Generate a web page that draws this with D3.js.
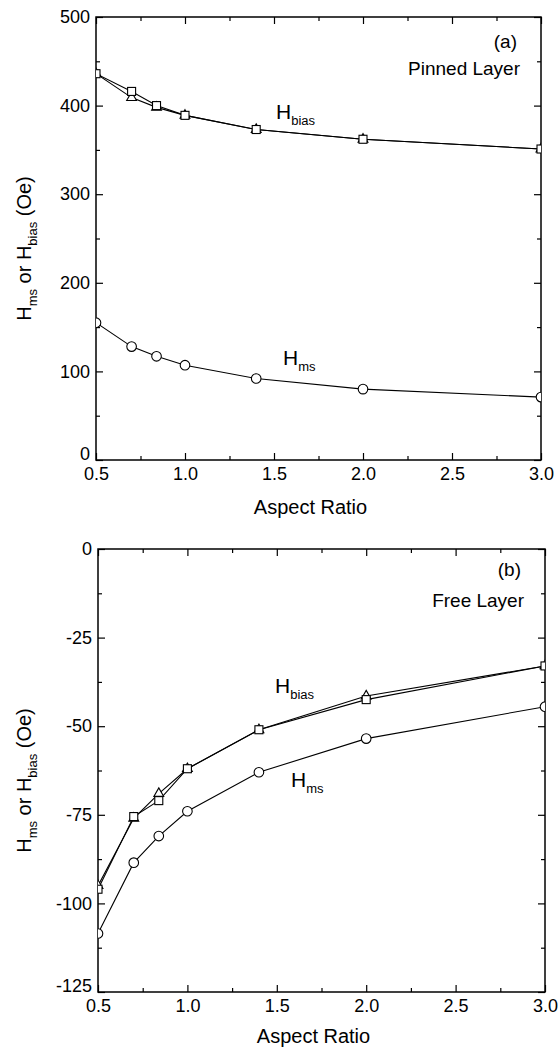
<!DOCTYPE html>
<html>
<head>
<meta charset="utf-8">
<script src="https://cdn.jsdelivr.net/npm/d3@7"></script>
<style>
  body { margin: 0; background: #fff; }
  svg text { font-family: "Liberation Sans", Arial, sans-serif; fill: #000; }
</style>
</head>
<body>
<div id="chart"></div>
<script>
// aspect ratios measured
const aspect = [0.5, 0.7, 0.84, 1.0, 1.4, 2.0, 3.0];

// (a) pinned layer
const pinnedBiasTri = [436, 409, 398, 389, 373, 362, 351];
const pinnedBiasSq = [436, 416, 400, 389, 373, 362, 351];
const pinnedMs = [155, 128, 117, 107, 92, 80, 71];

// (b) free layer
const freeBiasTri = [-95, -76, -69, -62, -51, -41.5, -33];
const freeBiasSq = [-96, -75.5, -71, -62, -51, -42.5, -33];
const freeMs = [-108.5, -88.5, -81, -74, -63, -53.5, -44.5];

const xTicks = [0.5, 1.0, 1.5, 2.0, 2.5, 3.0];
const pinnedYTicks = [0, 100, 200, 300, 400, 500];
const freeYTicks = [0, -25, -50, -75, -100, -125];

const width = 560, height = 1052;

const svg = d3.select("#chart")
  .append("svg")
  .attr("width", width)
  .attr("height", height);

function subLabel(g, x, y, main, sub, size) {
  const t = g.append("text")
    .attr("x", x)
    .attr("y", y)
    .attr("font-size", size);
  t.append("tspan").text(main);
  t.append("tspan")
    .attr("font-size", size * 0.62)
    .attr("dy", 6)
    .text(sub);
  return t;
}

function drawPanel(opt) {
  const { id, left, right, top, bottom, yDomain, yTicks, yMinorStep, series, tag, name } = opt;

  const x = d3.scaleLinear().domain([0.5, 3.0]).range([left, right]);
  const y = d3.scaleLinear().domain(yDomain).range([bottom, top]);

  const g = svg.append("g");

  g.append("clipPath").attr("id", "clip-" + id)
    .append("rect")
    .attr("x", left).attr("y", top)
    .attr("width", right - left).attr("height", bottom - top);

  // ticks on all four sides, pointing inward
  const xMinor = d3.range(0.75, 3.0, 0.5);
  const yMinor = d3.range(yDomain[0] + yMinorStep, yDomain[1], yMinorStep * 2);

  const axB = g.append("g").attr("transform", `translate(0,${bottom})`)
    .call(d3.axisBottom(x).tickValues(xTicks).tickSize(-7).tickFormat(d3.format(".1f")));
  axB.selectAll("text").attr("font-size", 18).attr("dy", "0.95em").attr("y", 3);
  g.append("g").attr("transform", `translate(0,${bottom})`)
    .call(d3.axisBottom(x).tickValues(xMinor).tickSize(-4).tickFormat(""));

  g.append("g").attr("transform", `translate(0,${top})`)
    .call(d3.axisTop(x).tickValues(xTicks).tickSize(-7).tickFormat(""));
  g.append("g").attr("transform", `translate(0,${top})`)
    .call(d3.axisTop(x).tickValues(xMinor).tickSize(-4).tickFormat(""));

  const axL = g.append("g").attr("transform", `translate(${left},0)`)
    .call(d3.axisLeft(y).tickValues(yTicks).tickSize(-7).tickFormat(d => String(d)));
  axL.selectAll("text")
    .attr("font-size", 18)
    .attr("x", -6)
    .attr("y", d => d === yDomain[0] ? -6 : 0);
  g.append("g").attr("transform", `translate(${left},0)`)
    .call(d3.axisLeft(y).tickValues(yMinor).tickSize(-4).tickFormat(""));

  g.append("g").attr("transform", `translate(${right},0)`)
    .call(d3.axisRight(y).tickValues(yTicks).tickSize(-7).tickFormat(""));
  g.append("g").attr("transform", `translate(${right},0)`)
    .call(d3.axisRight(y).tickValues(yMinor).tickSize(-4).tickFormat(""));

  g.selectAll(".domain").remove();
  g.selectAll(".tick line").attr("stroke", "#000").attr("stroke-width", 1.2);

  // frame
  g.append("rect")
    .attr("x", left).attr("y", top)
    .attr("width", right - left).attr("height", bottom - top)
    .attr("fill", "none")
    .attr("stroke", "#000")
    .attr("stroke-width", 1.5);

  const plot = g.append("g").attr("clip-path", `url(#clip-${id})`);

  const line = d3.line()
    .x((d, i) => x(aspect[i]))
    .y(d => y(d));

  series.forEach(s => {
    plot.append("path")
      .attr("d", line(s.values))
      .attr("fill", "none")
      .attr("stroke", "#000")
      .attr("stroke-width", 1.1);
  });

  series.forEach(s => {
    const pts = plot.selectAll(null).data(s.values).enter();
    if (s.shape === "circle") {
      pts.append("circle")
        .attr("cx", (d, i) => x(aspect[i]))
        .attr("cy", d => y(d))
        .attr("r", 4.8)
        .attr("fill", "#fff").attr("stroke", "#000").attr("stroke-width", 1.1);
    } else if (s.shape === "square") {
      pts.append("rect")
        .attr("x", (d, i) => x(aspect[i]) - 4)
        .attr("y", d => y(d) - 4)
        .attr("width", 8).attr("height", 8)
        .attr("fill", "#fff").attr("stroke", "#000").attr("stroke-width", 1.1);
    } else {
      pts.append("path")
        .attr("d", d3.symbol(d3.symbolTriangle, 42))
        .attr("transform", (d, i) => `translate(${x(aspect[i])},${y(d)})`)
        .attr("fill", "#fff").attr("stroke", "#000").attr("stroke-width", 1.1);
    }
  });

  // axis titles
  g.append("text")
    .attr("x", (left + right) / 2 - 8)
    .attr("y", bottom + opt.titleDy)
    .attr("text-anchor", "middle")
    .attr("font-size", 20)
    .text("Aspect Ratio");

  const yl = g.append("text")
    .attr("transform", `translate(31,${(top + bottom) / 2 + 10}) rotate(-90)`)
    .attr("text-anchor", "middle")
    .attr("font-size", 20);
  yl.append("tspan").text("H");
  yl.append("tspan").attr("font-size", 13).attr("dy", 6).text("ms");
  yl.append("tspan").attr("dy", -6).text(" or H");
  yl.append("tspan").attr("font-size", 13).attr("dy", 6).text("bias");
  yl.append("tspan").attr("dy", -6).text(" (Oe)");

  // panel tags
  g.append("text")
    .attr("x", right - 24).attr("y", top + tag.dy)
    .attr("text-anchor", "end").attr("font-size", 19)
    .text(tag.text);
  g.append("text")
    .attr("x", right - 21).attr("y", top + name.dy)
    .attr("text-anchor", "end").attr("font-size", 19)
    .text(name.text);

  opt.labels.forEach(l => subLabel(g, l.x, l.y, "H", l.sub, 21));
}

drawPanel({
  id: "a",
  left: 96, right: 541, top: 17, bottom: 460,
  yDomain: [0, 500], yTicks: pinnedYTicks, yMinorStep: 50,
  series: [
    { values: pinnedBiasTri, shape: "triangle" },
    { values: pinnedBiasSq, shape: "square" },
    { values: pinnedMs, shape: "circle" }
  ],
  tag: { text: "(a)", dy: 31 },
  name: { text: "Pinned Layer", dy: 58 },
  titleDy: 54,
  labels: [
    { x: 276, y: 119, sub: "bias" },
    { x: 283, y: 365, sub: "ms" }
  ]
});

drawPanel({
  id: "b",
  left: 98, right: 545, top: 549, bottom: 992,
  yDomain: [-125, 0], yTicks: freeYTicks, yMinorStep: 12.5,
  series: [
    { values: freeBiasTri, shape: "triangle" },
    { values: freeBiasSq, shape: "square" },
    { values: freeMs, shape: "circle" }
  ],
  tag: { text: "(b)", dy: 27 },
  name: { text: "Free Layer", dy: 58 },
  titleDy: 51,
  labels: [
    { x: 275, y: 693, sub: "bias" },
    { x: 291, y: 787, sub: "ms" }
  ]
});
</script>
</body>
</html>
